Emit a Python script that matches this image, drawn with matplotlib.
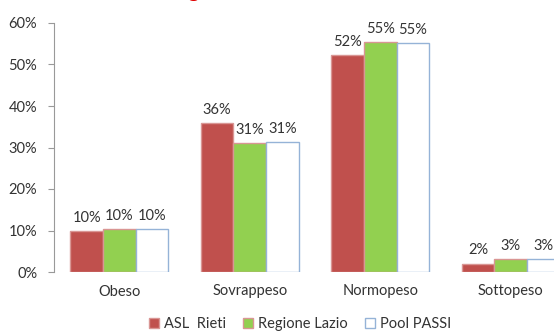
import numpy as np
import matplotlib.pyplot as plt
from matplotlib.patches import Patch

categories = ['Obeso', 'Sovrappeso', 'Normopeso', 'Sottopeso']
asl_rieti = [9.9, 35.9, 52.2, 2.0]
regione_lazio = [10.4, 31.1, 55.4, 3.1]
pool_passi = [10.4, 31.3, 55.1, 3.1]
labels_rieti = ['10%', '36%', '52%', '2%']
labels_lazio = ['10%', '31%', '55%', '3%']
labels_pool = ['10%', '31%', '55%', '3%']

plt.rcParams['font.family'] = ['Lato', 'DejaVu Sans']

fig = plt.figure(figsize=(5.54, 3.34), dpi=100)
ax = fig.add_axes([54 / 554, 62 / 334, 522 / 554, 249 / 334])

x = np.arange(len(categories))
w = 0.25
series = [
    (asl_rieti, labels_rieti, '#C0504D', '#D99694', 'ASL  Rieti'),
    (regione_lazio, labels_lazio, '#92D050', '#D99694', 'Regione Lazio'),
    (pool_passi, labels_pool, 'white', '#95B3D7', 'Pool PASSI'),
]
for i, (vals, labs, fc, ec, name) in enumerate(series):
    pos = x + (i - 1) * w
    ax.bar(pos, vals, width=w, color=fc, edgecolor=ec, linewidth=1)
    for p, v, t in zip(pos, vals, labs):
        ax.text(p, v + 1.5, t, ha='center', va='bottom', fontsize=10.5, color='#333333')

ax.set_xlim(-0.5, 3.5)
ax.set_ylim(0, 60)
ax.set_yticks(np.arange(0, 61, 10))
ax.set_yticklabels([f'{v}%' for v in range(0, 61, 10)], fontsize=10.5, color='#333333')
ax.set_xticks(x)
ax.set_xticklabels(categories, fontsize=10.5, color='#333333')
ax.tick_params(axis='x', length=0, pad=9)
ax.tick_params(axis='y', length=4, color='#999999', pad=8)
for s in ['top', 'right', 'bottom']:
    ax.spines[s].set_visible(False)
ax.spines['left'].set_color('#999999')

handles = [Patch(facecolor=fc, edgecolor=('#95B3D7' if fc == 'white' else ec), label=name)
           for _, _, fc, ec, name in series]
fig.legend(handles=handles, loc='center', bbox_to_anchor=(300 / 554, 1 - 324 / 334),
           ncol=3, frameon=False, fontsize=10.5, handlelength=0.7, handleheight=0.7,
           handletextpad=0.3, columnspacing=1.2, labelcolor='#333333')

# cut-off title at the top
fig.text(193 / 554, 1 + 3 / 334, 'g', color='#E00000', fontsize=16, ha='center', va='baseline')

fig.savefig('out.png', dpi=100)
